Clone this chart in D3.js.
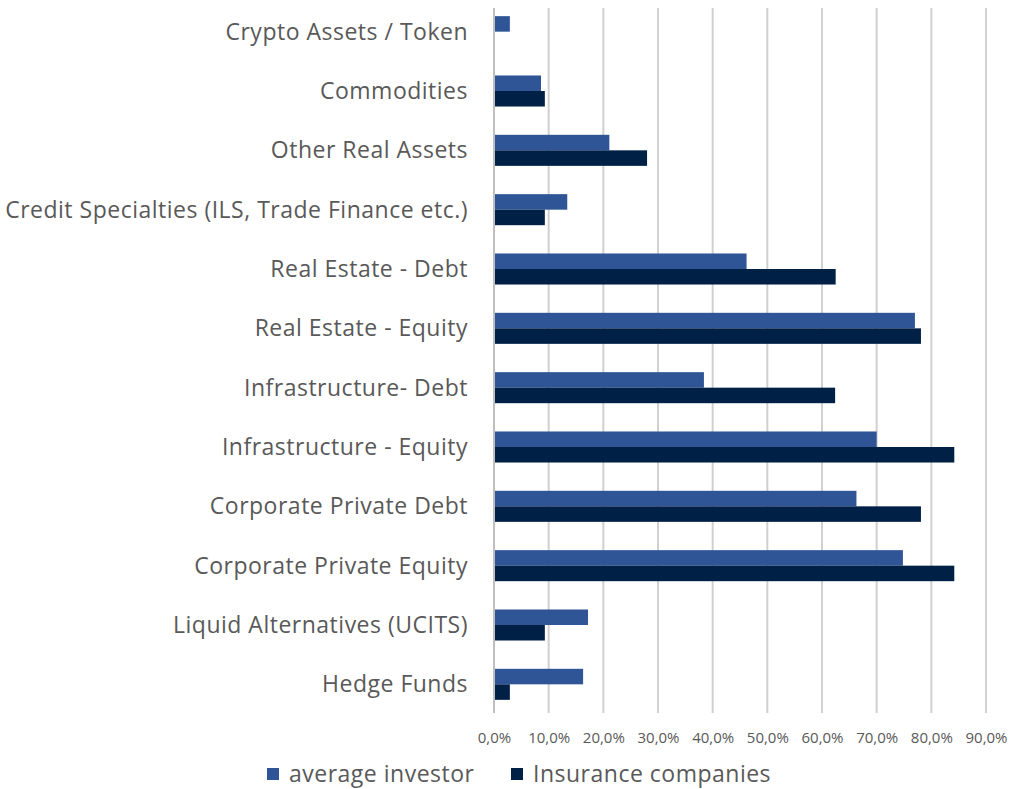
<!DOCTYPE html>
<html>
<head>
<meta charset="utf-8">
<script src="https://cdn.jsdelivr.net/npm/d3@7"></script>
<style>
  body { margin: 0; background: #fff; }
  text { font-family: "Open Sans", "Noto Sans", sans-serif; fill: #595959; }
</style>
</head>
<body>
<svg width="1009" height="789"></svg>
<script>
// data (top to bottom)
var categories = [
  'Crypto Assets / Token',
  'Commodities',
  'Other Real Assets',
  'Credit Specialties (ILS, Trade Finance etc.)',
  'Real Estate - Debt',
  'Real Estate - Equity',
  'Infrastructure- Debt',
  'Infrastructure - Equity',
  'Corporate Private Debt',
  'Corporate Private Equity',
  'Liquid Alternatives (UCITS)',
  'Hedge Funds'
];
var averageInvestor = [2.9, 8.6, 21.1, 13.4, 46.2, 77.0, 38.4, 70.0, 66.3, 74.8, 17.2, 16.3];
var insuranceCompanies = [0, 9.3, 28.0, 9.3, 62.5, 78.1, 62.4, 84.2, 78.1, 84.2, 9.3, 2.9];
var seriesNames = ['average investor', 'Insurance companies'];
var seriesColors = ['#2F5597', '#002046'];
var xTicks = [0, 10, 20, 30, 40, 50, 60, 70, 80, 90];

var svg = d3.select('svg');
var margin = {top: 2, bottom: 75, left: 494, right: 23};
var width = 1009, height = 789;

var xScale = d3.scaleLinear()
    .domain([0, 90])
    .range([margin.left, width - margin.right]);
var yScale = d3.scaleBand()
    .domain(categories)
    .range([margin.top, height - margin.bottom])
    .paddingInner(0.477)
    .paddingOuter(0.2385);
var subScale = d3.scaleBand()
    .domain(seriesNames)
    .range([0, yScale.bandwidth()]);

// gridlines
svg.append('g')
    .selectAll('line')
    .data(xTicks.slice(1))
    .enter().append('line')
    .attr('x1', d => xScale(d))
    .attr('x2', d => xScale(d))
    .attr('y1', 8)
    .attr('y2', 713)
    .attr('stroke', '#d0d0d0')
    .attr('stroke-width', 2);

// bars
var rows = categories.map((c, i) => ({cat: c, vals: [averageInvestor[i], insuranceCompanies[i]]}));
var groups = svg.append('g').selectAll('g')
    .data(rows)
    .enter().append('g')
    .attr('transform', d => 'translate(0,' + yScale(d.cat) + ')');
groups.selectAll('rect')
    .data(d => d.vals.map((v, j) => ({v: v, s: seriesNames[j], c: seriesColors[j]})))
    .enter().append('rect')
    .attr('x', xScale(0))
    .attr('y', d => subScale(d.s))
    .attr('width', d => xScale(d.v) - xScale(0))
    .attr('height', subScale.bandwidth())
    .attr('fill', d => d.c);

// vertical axis line
svg.append('line')
    .attr('x1', xScale(0)).attr('x2', xScale(0))
    .attr('y1', 8).attr('y2', 713)
    .attr('stroke', '#bfbfbf')
    .attr('stroke-width', 2);

// category labels
svg.append('g')
    .selectAll('text')
    .data(categories)
    .enter().append('text')
    .attr('x', 468)
    .attr('y', d => yScale(d) + yScale.bandwidth() / 2)
    .attr('dy', '0.35em')
    .attr('text-anchor', 'end')
    .style('font-size', '23px')
    .style('letter-spacing', '0.5px')
    .text(d => d);

// x axis labels
var xAxis = d3.axisBottom(xScale)
    .tickValues(xTicks)
    .tickSize(0)
    .tickPadding(0)
    .tickFormat(d => d.toFixed(1).replace('.', ',') + '%');
var xg = svg.append('g')
    .attr('transform', 'translate(0,732)')
    .call(xAxis);
xg.select('.domain').remove();
xg.selectAll('text')
    .style('font-size', '15px')
    .attr('fill', '#595959');

// legend
var legendX = [267, 511];
var legend = svg.append('g').selectAll('g')
    .data(seriesNames)
    .enter().append('g')
    .attr('transform', (d, i) => 'translate(' + legendX[i] + ',768)');
legend.append('rect')
    .attr('width', 12).attr('height', 12)
    .attr('fill', (d, i) => seriesColors[i]);
legend.append('text')
    .attr('x', 22)
    .attr('y', 6)
    .attr('dy', '0.35em')
    .style('font-size', '23px')
    .style('letter-spacing', '0.5px')
    .text(d => d);
</script>
</body>
</html>
